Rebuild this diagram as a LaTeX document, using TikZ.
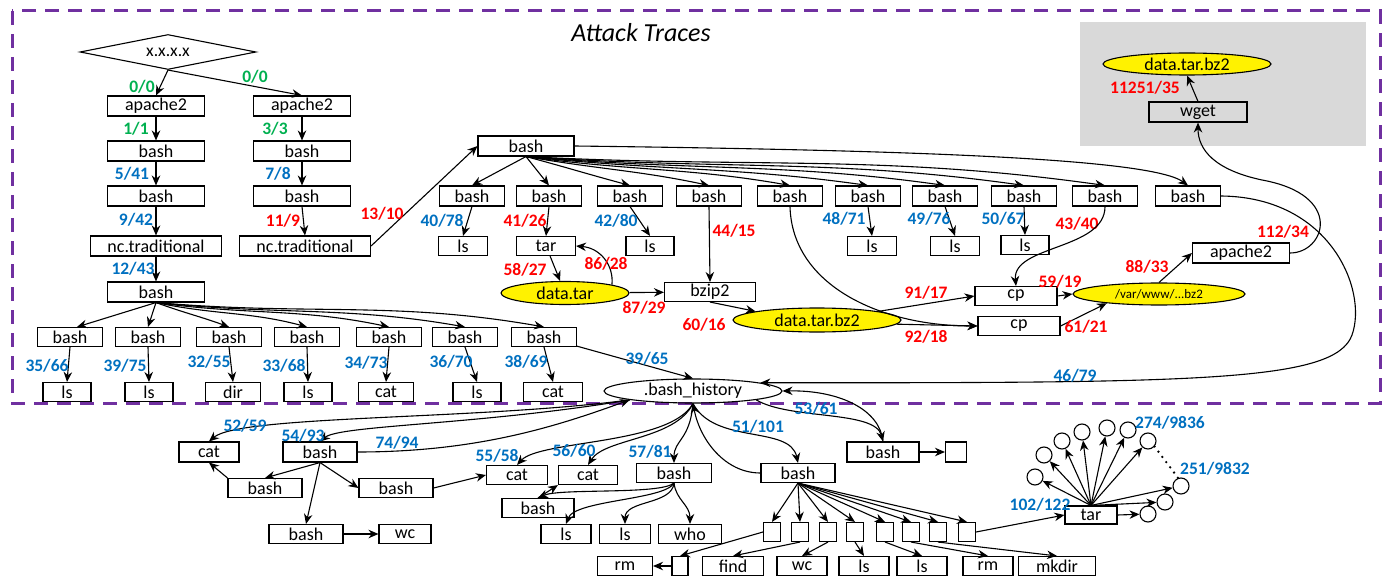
\documentclass[tikz,border=0pt]{standalone}
\usepackage{fontspec}
\setmainfont{Carlito}
\usetikzlibrary{shapes.geometric,arrows.meta}
\definecolor{tred}{HTML}{FF0000}
\definecolor{tblue}{HTML}{0070C0}
\definecolor{tgreen}{HTML}{00B050}
\definecolor{tpurple}{HTML}{7030A0}
\definecolor{tgray}{HTML}{D9D9D9}
\tikzset{
  proc/.style={draw, inner sep=0pt, minimum height=20pt, font=\fontsize{18}{20}\selectfont},
  leaf/.style={proc, minimum height=19pt},
  file/.style={draw, ellipse, fill=yellow, inner sep=0pt, font=\fontsize{18}{20}\selectfont},
  blank/.style={draw, inner sep=0pt, minimum width=17pt, minimum height=19pt},
  ball/.style={draw, circle, inner sep=0pt, minimum size=16pt},
  host/.style={draw, diamond, aspect=5, inner sep=0pt, minimum width=176pt, minimum height=35pt, font=\fontsize{17.5}{20}\selectfont},
  cnt/.style={font=\fontsize{17.5}{19}\selectfont\bfseries},
  redc/.style={cnt, text=tred},
  bluec/.style={cnt, text=tblue},
  greenc/.style={cnt, text=tgreen}
}
\begin{document}
\begin{tikzpicture}[x=1pt, y=1pt, line width=1.1pt, >={Stealth[length=10pt,width=8.5pt]}]
    \useasboundingbox (0,0) rectangle (1400,-580);
    \fill[tgray] (1080,-22) rectangle (1366,-146);
    \draw[tpurple, line width=3pt, dash pattern=on 14pt off 9pt] (12,-11) rectangle (1380,-403);
    \node[font=\itshape\fontsize{26}{29}\selectfont] (title) at (641,-33) {Attack Traces};
    % entry
    \node[host] (ip) at (168,-52) {x.x.x.x};
    \node[proc, minimum width=97pt] (apA) at (156,-106) {apache2};
    \node[proc, minimum width=97pt] (apB) at (302,-106) {apache2};
    \node[proc, minimum width=97pt] (shA1) at (156,-151) {bash};
    \node[proc, minimum width=97pt] (shB1) at (302,-151) {bash};
    \node[proc, minimum width=97pt] (shA2) at (156,-196) {bash};
    \node[proc, minimum width=97pt] (shB2) at (302,-196) {bash};
    \node[proc, minimum width=131pt] (ncA) at (156,-246) {nc.traditional};
    \node[proc, minimum width=131pt] (ncB) at (305,-246) {nc.traditional};
    \node[proc, minimum width=97pt] (shA3) at (156,-292) {bash};
    \draw[->] (ip.south) -- (apA.north);
    \draw[->] (ip.south) -- (apB.north);
    \draw[->] (apA) -- (shA1);
    \draw[->] (shA1) -- (shA2);
    \draw[->] (shA2) -- (ncA);
    \draw[->] (ncA) -- (shA3);
    \draw[->] (apB) -- (shB1);
    \draw[->] (shB1) -- (shB2);
    \draw[->] (shB2.south) -- (ncB.north);
    \node[greenc] (n00a) at (142,-87) {0/0};
    \node[greenc] (n00b) at (255,-77) {0/0};
    \node[greenc] (n11) at (136,-129) {1/1};
    \node[greenc] (n33) at (275,-129) {3/3};
    \node[bluec] (n541) at (132,-174) {5/41};
    \node[bluec] (n78) at (278,-174) {7/8};
    \node[bluec] (n942) at (136,-220) {9/42};
    \node[redc] (n119) at (283,-221) {11/9};
    \node[bluec] (n1243) at (133,-269) {12/43};
    % first shell
    \node[leaf, minimum width=65pt] (r1) at (70,-337) {bash};
    \node[leaf, minimum width=65pt] (r2) at (148,-337) {bash};
    \node[leaf, minimum width=65pt] (r3) at (229,-337) {bash};
    \node[leaf, minimum width=65pt] (r4) at (307,-337) {bash};
    \node[leaf, minimum width=65pt] (r5) at (389,-337) {bash};
    \node[leaf, minimum width=65pt] (r6) at (465,-337) {bash};
    \node[leaf, minimum width=65pt] (r7) at (544,-337) {bash};
    \node[leaf, minimum width=48pt] (lv1) at (67,-392) {ls};
    \node[leaf, minimum width=48pt] (lv2) at (149,-392) {ls};
    \node[leaf, minimum width=55pt] (lv3) at (233,-392) {dir};
    \node[leaf, minimum width=48pt] (lv4) at (308,-392) {ls};
    \node[leaf, minimum width=55pt] (lv5) at (386,-392) {cat};
    \node[leaf, minimum width=48pt] (lv6) at (477,-392) {ls};
    \node[leaf, minimum width=59pt] (lv7) at (553,-392) {cat};
    \draw[->] (shA3.south) -- ([xshift=7pt]r1.north);
    \draw[->] (shA3.south) -- (r2.north);
    \draw[->] (shA3.south) to[out=-20, in=160] (r3.north);
    \draw[->] (shA3.south) to[out=-12, in=165] (r4.north);
    \draw[->] (shA3.south) to[out=-8, in=168] (r5.north);
    \draw[->] (shA3.south) to[out=-6, in=170] (r6.north);
    \draw[->] (shA3.south) to[out=-5, in=170] (r7.north);
    \draw[->] (r1.south) -- (lv1.north);
    \draw[->] (r2.south) -- (lv2.north);
    \draw[->] (r3.south) -- (lv3.north);
    \draw[->] (r4.south) -- (lv4.north);
    \draw[->] (r5.south) -- (lv5.north);
    \draw[->] (r6.south) -- (lv6.north);
    \draw[->] (r7.south) -- (lv7.north);
    \node[bluec] (n3566) at (47,-366) {35/66};
    \node[bluec] (n3975) at (125,-366) {39/75};
    \node[bluec] (n3255) at (209,-362) {32/55};
    \node[bluec] (n3368) at (284,-366) {33/68};
    \node[bluec] (n3473) at (366,-363) {34/73};
    \node[bluec] (n3670) at (451,-362) {36/70};
    \node[bluec] (n3869) at (526,-362) {38/69};
    % second shell
    \node[proc, minimum width=96pt] (shM) at (526,-146) {bash};
    \draw[->] (ncB.east) -- (shM.west);
    \node[redc] (n1310) at (382,-214) {13/10};
    \node[proc, minimum width=65pt] (m1) at (472,-196) {bash};
    \node[proc, minimum width=65pt] (m2) at (549,-196) {bash};
    \node[proc, minimum width=65pt] (m3) at (630,-196) {bash};
    \node[proc, minimum width=65pt] (m4) at (709,-196) {bash};
    \node[proc, minimum width=65pt] (m5) at (790,-196) {bash};
    \node[proc, minimum width=65pt] (m6) at (868,-196) {bash};
    \node[proc, minimum width=65pt] (m7) at (945,-196) {bash};
    \node[proc, minimum width=65pt] (m8) at (1024,-196) {bash};
    \node[proc, minimum width=65pt] (m9) at (1105,-196) {bash};
    \node[proc, minimum width=65pt] (m10) at (1188,-196) {bash};
    \draw[->] (shM.south) -- (m1.north);
    \draw[->] (shM.south) -- (m2.north);
    \draw[->] (shM.south) to[out=-15, in=165] (m3.north);
    \draw[->] (shM.south) to[out=-10, in=168] (m4.north);
    \draw[->] (shM.south) to[out=-8, in=170] (m5.north);
    \draw[->] (shM.south) to[out=-6, in=172] (m6.north);
    \draw[->] (shM.south) to[out=-5, in=172] (m7.north);
    \draw[->] (shM.south) to[out=-4, in=172] (m8.north);
    \draw[->] (shM.south) to[out=-3, in=172] (m9.north);
    \draw[->] (shM.east) .. controls (900,-150) and (1150,-158) .. (m10.north);
    \node[leaf, minimum width=49pt] (mls1) at (463,-246) {ls};
    \node[leaf, minimum width=59pt] (tar) at (546,-246) {tar};
    \node[leaf, minimum width=48pt] (mls3) at (650,-246) {ls};
    \node[leaf, minimum width=49pt] (mls6) at (872,-246) {ls};
    \node[leaf, minimum width=49pt] (mls7) at (955,-246) {ls};
    \node[leaf, minimum width=48pt] (mls8) at (1025,-245) {ls};
    \draw[->] (m1.south) -- (mls1.north);
    \draw[->] (m2.south) -- (tar.north);
    \draw[->] (m3.south) -- (mls3.north);
    \draw[->] (m6.south) -- (mls6.north);
    \draw[->] (m7.south) -- (mls7.north);
    \draw[->] (m8.south) -- (mls8.north);
    \node[bluec] (n4078) at (442,-221) {40/78};
    \node[redc] (n4126) at (525,-221) {41/26};
    \node[bluec] (n4280) at (616,-221) {42/80};
    \node[redc] (n4415) at (734,-231) {44/15};
    \node[bluec] (n4871) at (844,-219) {48/71};
    \node[bluec] (n4976) at (929,-219) {49/76};
    \node[bluec] (n5067) at (1003,-219) {50/67};
    \node[redc] (n4340) at (1077,-224) {43/40};
    % the files
    \node[file, minimum width=128pt, minimum height=23pt] (dtar) at (565,-293) {data.tar};
    \node[leaf, minimum width=91pt] (bzip) at (710,-292) {bzip2};
    \node[file, minimum width=168pt, minimum height=24pt] (dbz) at (817,-320) {data.tar.bz2};
    \node[leaf, minimum width=82pt] (cpA) at (1016,-296) {cp};
    \node[leaf, minimum width=82pt] (cpB) at (1019,-326) {cp};
    \node[file, minimum width=172pt, minimum height=22pt, font=\fontsize{13}{15}\selectfont] (www) at (1159,-294) {/var/www/...bz2};
    \node[proc, minimum width=97pt] (apC) at (1241,-253) {apache2};
    \node[proc, minimum width=98pt] (wget) at (1198,-112) {wget};
    \node[file, minimum width=168pt, minimum height=22pt] (dbz2) at (1187,-64) {data.tar.bz2};
    \draw[->] (tar) -- (dtar);
    \draw[->] (dtar.10) .. controls (614,-265) and (600,-248) .. (tar.east);
    \draw[->] (dtar) -- (bzip);
    \draw[->] (m4.south) -- (bzip.north);
    \draw[->] (bzip.south) -- (dbz.172);
    \draw[->] (dbz.8) -- (cpA.west);
    \draw[->] (dbz.-3) -- (cpB.west);
    \draw[->] (m5.south) .. controls (792,-285) and (880,-326) .. (cpB.west);
    \draw[->] (m9.south) .. controls (1105,-250) and (1012,-245) .. (cpA.north);
    \draw[->] (cpA.east) -- (www.west);
    \draw[->] (cpB.east) -- (www.190);
    \draw[->] (www.north) -- (apC.west);
    \draw[->] (apC.east) .. controls (1325,-253) and (1345,-195) .. (1262,-180) .. controls (1215,-170) and (1198,-150) .. (wget.south);
    \draw[->] (wget.north) -- (dbz2.south);
    \node[redc] (n5827) at (525,-270) {58/27};
    \node[redc] (n8628) at (606,-264) {86/28};
    \node[redc] (n8729) at (644,-308) {87/29};
    \node[redc] (n6016) at (704,-325) {60/16};
    \node[redc] (n9117) at (926,-293) {91/17};
    \node[redc] (n9218) at (926,-337) {92/18};
    \node[redc] (n5919) at (1060,-282) {59/19};
    \node[redc] (n6121) at (1086,-327) {61/21};
    \node[redc] (n8833) at (1147,-267) {88/33};
    \node[redc] (n11234) at (1283,-232) {112/34};
    \node[redc] (n1125135) at (1145,-88) {11251/35};
    % history
    \node[draw, ellipse, inner sep=0pt, minimum width=178pt, minimum height=24pt, font=\fontsize{18}{20}\selectfont] (bh) at (693,-391) {.bash\_history};
    \draw[->] (r7) -- (bh.north);
    \draw[->] (m10.east) .. controls (1330,-197) and (1368,-290) .. (1352,-335) .. controls (1335,-382) and (1200,-383) .. (bh.7);
    \node[bluec] (n3965) at (647,-359) {39/65};
    \node[bluec] (n4679) at (1075,-376) {46/79};
    % outside the honeypot
    \node[proc, minimum width=60pt] (catA) at (209,-452) {cat};
    \node[proc, minimum width=74pt] (shB) at (320,-452) {bash};
    \node[leaf, minimum width=74pt] (shC) at (265,-488) {bash};
    \node[leaf, minimum width=74pt] (shD) at (396,-488) {bash};
    \node[leaf, minimum width=74pt] (shE) at (306,-534) {bash};
    \node[leaf, minimum width=52pt] (wcA) at (405,-534) {wc};
    \draw[->] (bh.188) .. controls (480,-420) and (240,-415) .. (catA.north);
    \draw[->] (bh.188) .. controls (480,-425) and (340,-425) .. (shB.north);
    \draw[->] (shB.east) .. controls (480,-452) and (560,-425) .. (bh.188);
    \draw[->] (shB.south) -- (shC.north);
    \draw[->] (shB.south) -- (shD.west);
    \draw[->] (shB.south) -- (shE.north);
    \draw[->] (shC.north west) -- (catA.south);
    \draw[->] (shE) -- (wcA);
    \node[bluec] (n5259) at (245,-426) {52/59};
    \node[bluec] (n5493) at (303,-436) {54/93};
    \node[bluec] (n7494) at (397,-443) {74/94};
    \node[leaf, minimum width=61pt] (catB) at (517,-475) {cat};
    \node[leaf, minimum width=59pt] (catC) at (588,-475) {cat};
    \node[leaf, minimum width=75pt] (shF) at (674,-473) {bash};
    \node[leaf, minimum width=72pt] (shG) at (538,-508) {bash};
    \node[leaf, minimum width=50pt] (lsH) at (566,-534) {ls};
    \node[leaf, minimum width=51pt] (lsI) at (625,-534) {ls};
    \node[leaf, minimum width=63pt] (who) at (690,-534) {who};
    \draw[->] (shD.east) -- (catB.west);
    \draw[->] (bh.south) .. controls (670,-445) and (540,-440) .. (catB.north);
    \draw[->] (bh.south) .. controls (675,-440) and (605,-438) .. (catC.north);
    \draw[->] (bh.south) .. controls (690,-440) and (674,-440) .. (shF.north);
    \draw[->] (shF.south) .. controls (660,-495) and (560,-488) .. (shG.north);
    \draw[->] (shG.north) -- (catC.south west);
    \draw[->] (shF.south) .. controls (665,-500) and (575,-500) .. (lsH.north);
    \draw[->] (shF.south) .. controls (672,-505) and (625,-500) .. (lsI.north);
    \draw[->] (shF.south) .. controls (676,-500) and (690,-505) .. (who.north);
    \node[bluec] (n5558) at (497,-456) {55/58};
    \node[bluec] (n5660) at (574,-451) {56/60};
    \node[bluec] (n5781) at (650,-452) {57/81};
    \node[leaf, minimum width=74pt] (shJ) at (798,-473) {bash};
    \node[proc, minimum width=72pt] (shK) at (883,-452) {bash};
    \node[blank, minimum width=21pt, minimum height=20pt] (sqK) at (956,-452) {};
    \draw[->] (bh.south) .. controls (715,-445) and (790,-425) .. (shJ.north);
    \draw[->] (shJ.west) .. controls (725,-473) and (700,-440) .. (bh.south);
    \draw[->] (bh.-8) .. controls (790,-420) and (875,-410) .. (shK.north);
    \draw[->] (shK.north) .. controls (880,-410) and (840,-390) .. (bh.east);
    \draw[->] (shK) -- (sqK);
    \node[bluec] (n51101) at (758,-427) {51/101};
    \node[bluec] (n5361) at (816,-409) {53/61};
    \node[blank] (sq1) at (772,-532) {};
    \node[blank] (sq2) at (800,-532) {};
    \node[blank] (sq3) at (828,-532) {};
    \node[blank] (sq4) at (855,-532) {};
    \node[blank] (sq5) at (885,-532) {};
    \node[blank] (sq6) at (911,-532) {};
    \node[blank] (sq7) at (938,-532) {};
    \node[blank] (sq8) at (967,-532) {};
    \draw[->] (shJ.south) -- (sq1.north);
    \draw[->] (shJ.south) -- (sq2.north);
    \draw[->] (shJ.south) -- (sq3.north);
    \draw[->] (shJ.south) -- (sq4.north);
    \draw[->] (shJ.south) -- (sq5.north);
    \draw[->] (shJ.south) -- (sq6.north);
    \draw[->] (shJ.south) -- (sq7.north);
    \draw[->] (shJ.south) -- (sq8.north);
    \node[leaf, minimum width=55pt] (rmA) at (625,-566) {rm};
    \node[blank, minimum width=16pt] (sqR) at (680,-566) {};
    \node[leaf, minimum width=61pt] (find) at (733,-566) {find};
    \node[leaf, minimum width=50pt] (wcB) at (802,-566) {wc};
    \node[leaf, minimum width=50pt] (lsJ) at (864,-566) {ls};
    \node[leaf, minimum width=50pt] (lsK) at (922,-566) {ls};
    \node[leaf, minimum width=50pt] (rmB) at (988,-566) {rm};
    \node[leaf, minimum width=77pt] (mkdir) at (1057,-566) {mkdir};
    \draw[->] (sq1.west) -- (sqR.north);
    \draw[->] (sqR) -- (rmA);
    \draw[->] (sq2.south) -- (find.north);
    \draw[->] (sq3.south) -- (wcB.north);
    \draw[->] (sq4.south) -- (lsJ.north);
    \draw[->] (sq5.south) -- (lsK.north);
    \draw[->] (sq6.south) -- (rmB.north);
    \draw[->] (sq7.south) -- (mkdir.north);
    % extracted files
    \node[leaf, minimum width=52pt, minimum height=18pt] (tarB) at (1091,-515) {tar};
    \draw[->] (sq8.east) -- (tarB.west);
    \node[bluec] (n102122) at (1040,-505) {102/122};
    \node[ball] (c1) at (1035,-477) {};
    \node[ball] (c2) at (1044,-455) {};
    \node[ball] (c3) at (1062,-441) {};
    \node[ball] (c4) at (1082,-432) {};
    \node[ball] (c5) at (1107,-428) {};
    \node[ball] (c6) at (1128,-430) {};
    \node[ball] (c7) at (1148,-441) {};
    \node[ball] (c8) at (1181,-486) {};
    \node[ball] (c9) at (1165,-502) {};
    \node[ball] (c10) at (1148,-514) {};
    \draw[->] (tarB.north) -- (c1);
    \draw[->] (tarB.north) -- (c2);
    \draw[->] (tarB.north) -- (c3);
    \draw[->] (tarB.north) -- (c4);
    \draw[->] (tarB.north) -- (c5);
    \draw[->] (tarB.north) -- (c6);
    \draw[->] (tarB.north) -- (c7);
    \draw[->] (tarB.north) -- (c8);
    \draw[->] (tarB.north) -- (c9);
    \draw[->] (tarB.east) -- (c10);
    \draw[line width=2.6pt, line cap=round, dash pattern=on 0pt off 6.5pt] (c7.-40) -- (c8.110);
    \node[bluec] (n2749836) at (1170,-423) {274/9836};
    \node[bluec] (n2519832) at (1215,-469) {251/9832};
\end{tikzpicture}
\end{document}
